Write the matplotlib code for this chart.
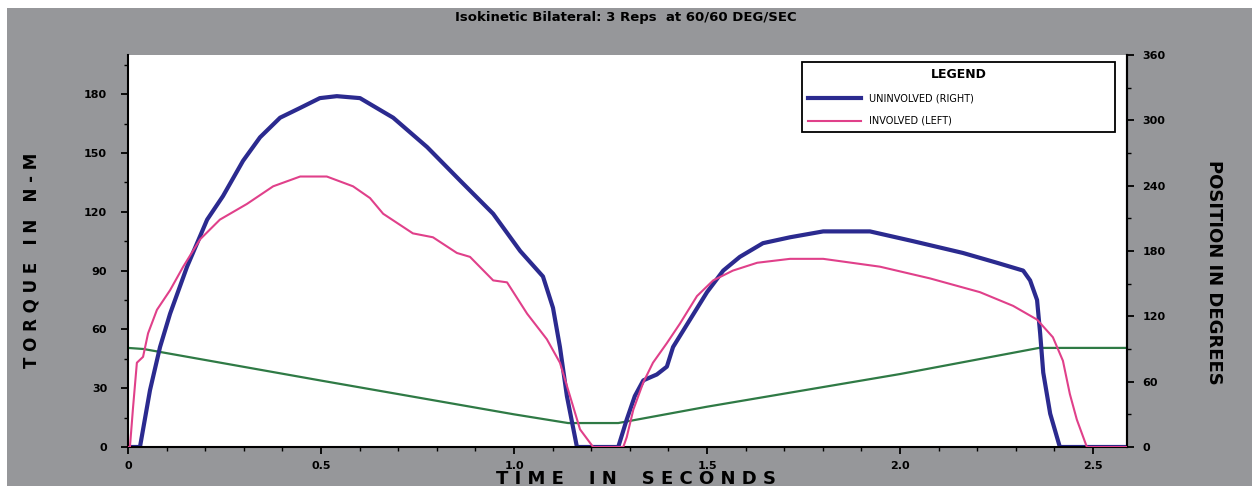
import numpy as np
import matplotlib
matplotlib.use("Agg")
import matplotlib.pyplot as plt
from matplotlib.patches import Rectangle
from matplotlib.ticker import MultipleLocator

# torque curves (time in s, torque in N-m)
right_t = [0.0, 0.031, 0.057, 0.083, 0.109, 0.153, 0.205, 0.246, 0.298, 0.342, 0.394, 0.446,
           0.497, 0.541, 0.601, 0.687, 0.775, 0.860, 0.946, 1.016, 1.075, 1.101, 1.119, 1.137,
           1.163, 1.270, 1.292, 1.313, 1.335, 1.370, 1.396, 1.412, 1.456, 1.500, 1.542, 1.585,
           1.645, 1.715, 1.801, 1.922, 2.034, 2.163, 2.251, 2.319, 2.337, 2.355, 2.363, 2.371,
           2.389, 2.414, 2.588]
right_torque = [0, 0, 29, 51, 68, 92, 116, 128, 146, 158, 168, 173,
                178, 179, 178, 168, 153, 136, 119, 100, 87, 71, 51, 26,
                0, 0, 14, 26, 34, 37, 41, 51, 65, 79, 90, 97,
                104, 107, 110, 110, 105, 99, 94, 90, 85, 75, 58, 38,
                17, 0, 0]

left_t = [0.0, 0.005, 0.013, 0.023, 0.039, 0.052, 0.075, 0.109, 0.143, 0.187, 0.238, 0.308,
          0.376, 0.446, 0.515, 0.583, 0.627, 0.661, 0.738, 0.790, 0.852, 0.886, 0.946, 0.982,
          1.034, 1.085, 1.119, 1.145, 1.171, 1.205, 1.283, 1.292, 1.309, 1.335, 1.360, 1.396,
          1.430, 1.474, 1.516, 1.567, 1.630, 1.715, 1.801, 1.948, 2.078, 2.207, 2.293, 2.355,
          2.396, 2.422, 2.440, 2.458, 2.484, 2.588]
left_torque = [0, 0, 20, 43, 46, 58, 70, 80, 92, 106, 116, 124,
               133, 138, 138, 133, 127, 119, 109, 107, 99, 97, 85, 84,
               68, 55, 43, 26, 9, 0, 0, 5, 19, 33, 43, 53,
               63, 77, 85, 90, 94, 96, 96, 92, 86, 79, 72, 65,
               56, 44, 27, 14, 0, 0]

# position (degrees)
pos_t = [0.0, 0.04, 0.5, 1.0, 1.14, 1.27, 1.5, 2.0, 2.36, 2.588]
pos_deg = [91, 90, 61, 30, 22, 22, 37, 67, 91, 91]

fig = plt.figure(figsize=(12.52, 4.86), dpi=100)
fig.patch.set_facecolor("white")
fig.patches.append(Rectangle((7 / 1252, 0), 1, 1 - 8 / 486, transform=fig.transFigure,
                             facecolor="#96979a", edgecolor="none", zorder=-10))

ax = fig.add_axes([128 / 1252, 39 / 486, 999 / 1252, 392 / 486])
ax.set_facecolor("white")
ax2 = ax.twinx()

ax2.plot(pos_t, pos_deg, color="#2f7a45", lw=1.6, zorder=1)
ax.plot(left_t, left_torque, color="#e0408a", lw=1.5, label="INVOLVED (LEFT)", zorder=3)
ax.plot(right_t, right_torque, color="#2b2a8f", lw=3.0, label="UNINVOLVED (RIGHT)", zorder=2)

ax.set_zorder(ax2.get_zorder() + 1)
ax.patch.set_visible(False)
ax2.patch.set_visible(True)
ax2.patch.set_facecolor("white")

ax.set_xlim(0, 2.588)
ax.set_ylim(0, 200)
ax2.set_ylim(0, 360)

ax.set_xticks([0, 0.5, 1.0, 1.5, 2.0, 2.5])
ax.set_xticklabels(["0", "0.5", "1.0", "1.5", "2.0", "2.5"])
ax.xaxis.set_minor_locator(MultipleLocator(0.1))
ax.set_yticks([0, 30, 60, 90, 120, 150, 180])
ax.yaxis.set_minor_locator(MultipleLocator(15))
ax2.set_yticks([0, 60, 120, 180, 240, 300, 360])
ax2.yaxis.set_minor_locator(MultipleLocator(30))

for a in (ax, ax2):
    a.spines["top"].set_visible(False)
    for s in a.spines.values():
        s.set_linewidth(1.5)
    a.tick_params(which="major", length=5, width=1.3, labelsize=8)
    a.tick_params(which="minor", length=3, width=1.0)
    for lab in a.get_yticklabels() + a.get_xticklabels():
        lab.set_fontweight("bold")
ax.tick_params(axis="y", pad=10)
ax2.tick_params(axis="y", pad=6)
ax.tick_params(axis="x", pad=5)
ax2.spines["left"].set_visible(False)
ax2.spines["bottom"].set_visible(False)

fig.text(0.5, 0.963, "Isokinetic Bilateral: 3 Reps  at 60/60 DEG/SEC", ha="center", va="center",
         fontsize=9.5, fontweight="bold")
fig.text(0.508, 0.015, "T I M E    I N    S E C O N D S", ha="center", va="center",
         fontsize=13, fontweight="bold")
fig.text(0.025, 0.465, "T O R Q U E   I N   N - M", ha="center", va="center",
         fontsize=12, fontweight="bold", rotation=90)
fig.text(0.970, 0.44, "POSITION IN DEGREES", ha="center", va="center",
         fontsize=13, fontweight="bold", rotation=-90)

h, l = ax.get_legend_handles_labels()
leg = ax.legend(h[::-1], l[::-1], title="LEGEND", loc="upper left",
                bbox_to_anchor=(0.67, 0.995, 0.323, 0.0), mode="expand",
                fontsize=7, handlelength=5.5, fancybox=False, framealpha=1,
                edgecolor="black", borderpad=0.6, labelspacing=1.3)
leg.get_title().set_fontweight("bold")
leg.get_title().set_fontsize(9)
leg.get_frame().set_linewidth(1.3)

fig.savefig("out.png", dpi=100, facecolor=fig.get_facecolor())
